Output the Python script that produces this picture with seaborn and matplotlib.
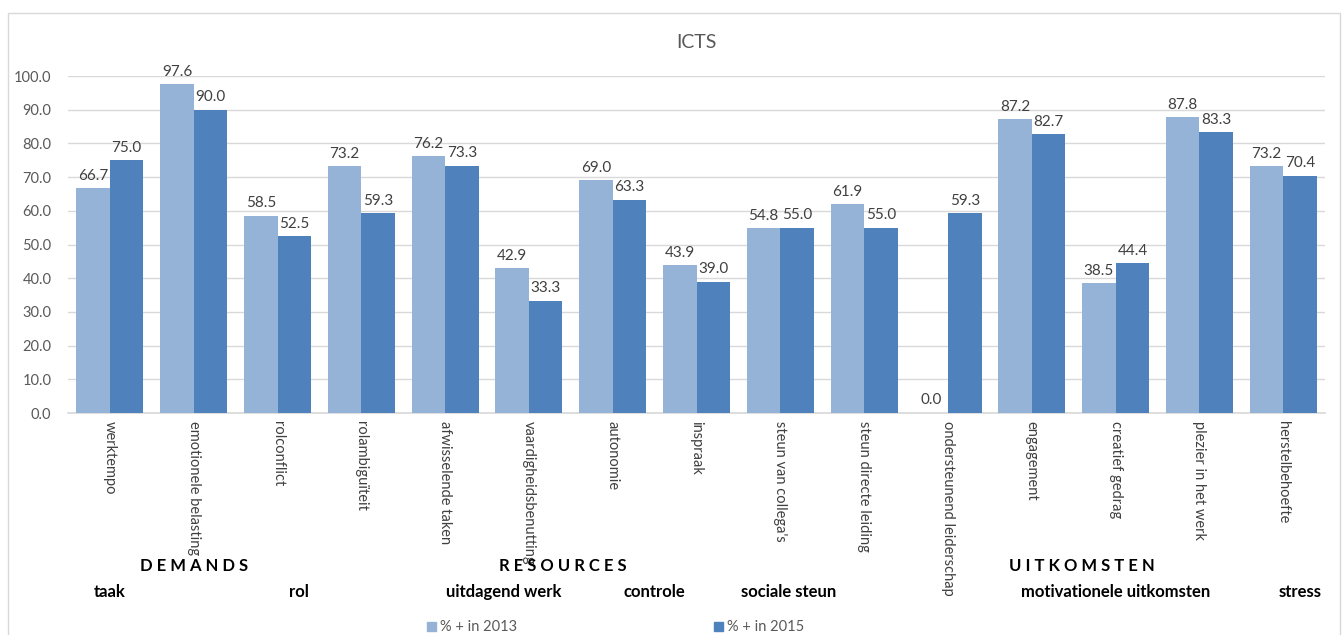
import matplotlib
matplotlib.use("Agg")
import matplotlib.pyplot as plt
import matplotlib.patches as mpatches
import seaborn as sns
import pandas as pd

categories = [
    "werktempo", "emotionele belasting", "rolconflict", "rolambiguïteit",
    "afwisselende taken", "vaardigheidsbenutting", "autonomie", "inspraak",
    "steun van collega's", "steun directe leiding", "ondersteunend leiderschap",
    "engagement", "creatief gedrag", "plezier in het werk", "herstelbehoefte",
]
values_2013 = [66.7, 97.6, 58.5, 73.2, 76.2, 42.9, 69.0, 43.9, 54.8, 61.9, 0.0, 87.2, 38.5, 87.8, 73.2]
values_2015 = [75.0, 90.0, 52.5, 59.3, 73.3, 33.3, 63.3, 39.0, 55.0, 55.0, 59.3, 82.7, 44.4, 83.3, 70.4]
series_names = ["% + in 2013", "% + in 2015"]
colors = ["#95B3D7", "#4F81BD"]

main_groups = [("D E M A N D S", 1.0), ("R E S O U R C E S", 5.4), ("U I T K O M S T E N", 11.6)]
sub_groups = [("taak", 0.0), ("rol", 2.25), ("uitdagend werk", 4.7), ("controle", 6.5),
              ("sociale steun", 8.1), ("motivationele uitkomsten", 12.0), ("stress", 14.2)]

df = pd.DataFrame({
    "categorie": categories * 2,
    "waarde": values_2013 + values_2015,
    "reeks": [series_names[0]] * len(categories) + [series_names[1]] * len(categories),
})

sns.set_theme(style="white")
plt.rcParams["font.family"] = ["Lato", "DejaVu Sans"]

fig = plt.figure(figsize=(13.44, 6.35), dpi=100)
ax = fig.add_axes([0.0506, 0.3496, 0.9354, 0.5307])

sns.barplot(data=df, x="categorie", y="waarde", hue="reeks", palette=colors,
            width=0.8, saturation=1, ax=ax, legend=False, linewidth=0, edgecolor="none")

for container in ax.containers:
    ax.bar_label(container, fmt="%.1f", padding=4, fontsize=11, color="#404040")

ax.set_ylim(0, 100)
ax.set_xlim(-0.5, len(categories) - 0.5)
ax.set_yticks(range(0, 101, 10))
ax.set_yticklabels([f"{v:.1f}" for v in range(0, 101, 10)], fontsize=10.5, color="#595959")
ax.yaxis.grid(True, color="#D9D9D9", linewidth=1)
ax.set_axisbelow(True)
ax.set_xlabel("")
ax.set_ylabel("")
ax.tick_params(axis="x", length=0, pad=6)
ax.tick_params(axis="y", length=0, pad=12)
ax.set_xticks(range(len(categories)))
ax.set_xticklabels(categories, rotation=-90, fontsize=10.5, color="#404040", va="top", ha="center")
for side in ["top", "right", "left"]:
    ax.spines[side].set_visible(False)
ax.spines["bottom"].set_color("#D9D9D9")
ax.spines["bottom"].set_zorder(0)

ax.set_title("ICTS", fontsize=14, color="#595959", pad=20)

trans = ax.get_xaxis_transform()
for label, xpos in main_groups:
    ax.text(xpos, -0.455, label, transform=trans, ha="center", va="center",
            fontsize=12, fontweight="bold", color="black")
for label, xpos in sub_groups:
    ax.text(xpos, -0.53, label, transform=trans, ha="center", va="center",
            fontsize=12, fontweight="bold", color="black")

handles = [mpatches.Patch(color=c, label=n) for c, n in zip(colors, series_names)]
fig.legend(handles=handles, loc="center", bbox_to_anchor=(0.458, 0.012), ncol=2,
           frameon=False, fontsize=10.5, handlelength=0.6, handleheight=0.6,
           handletextpad=0.3, columnspacing=13.5, labelcolor="#595959")

fig.add_artist(mpatches.Rectangle((8 / 1344, -0.01), 1332 / 1344, 1 - 13 / 635 + 0.01,
                                  transform=fig.transFigure, fill=False,
                                  edgecolor="#D9D9D9", linewidth=1))

fig.savefig("out.png", dpi=100)
